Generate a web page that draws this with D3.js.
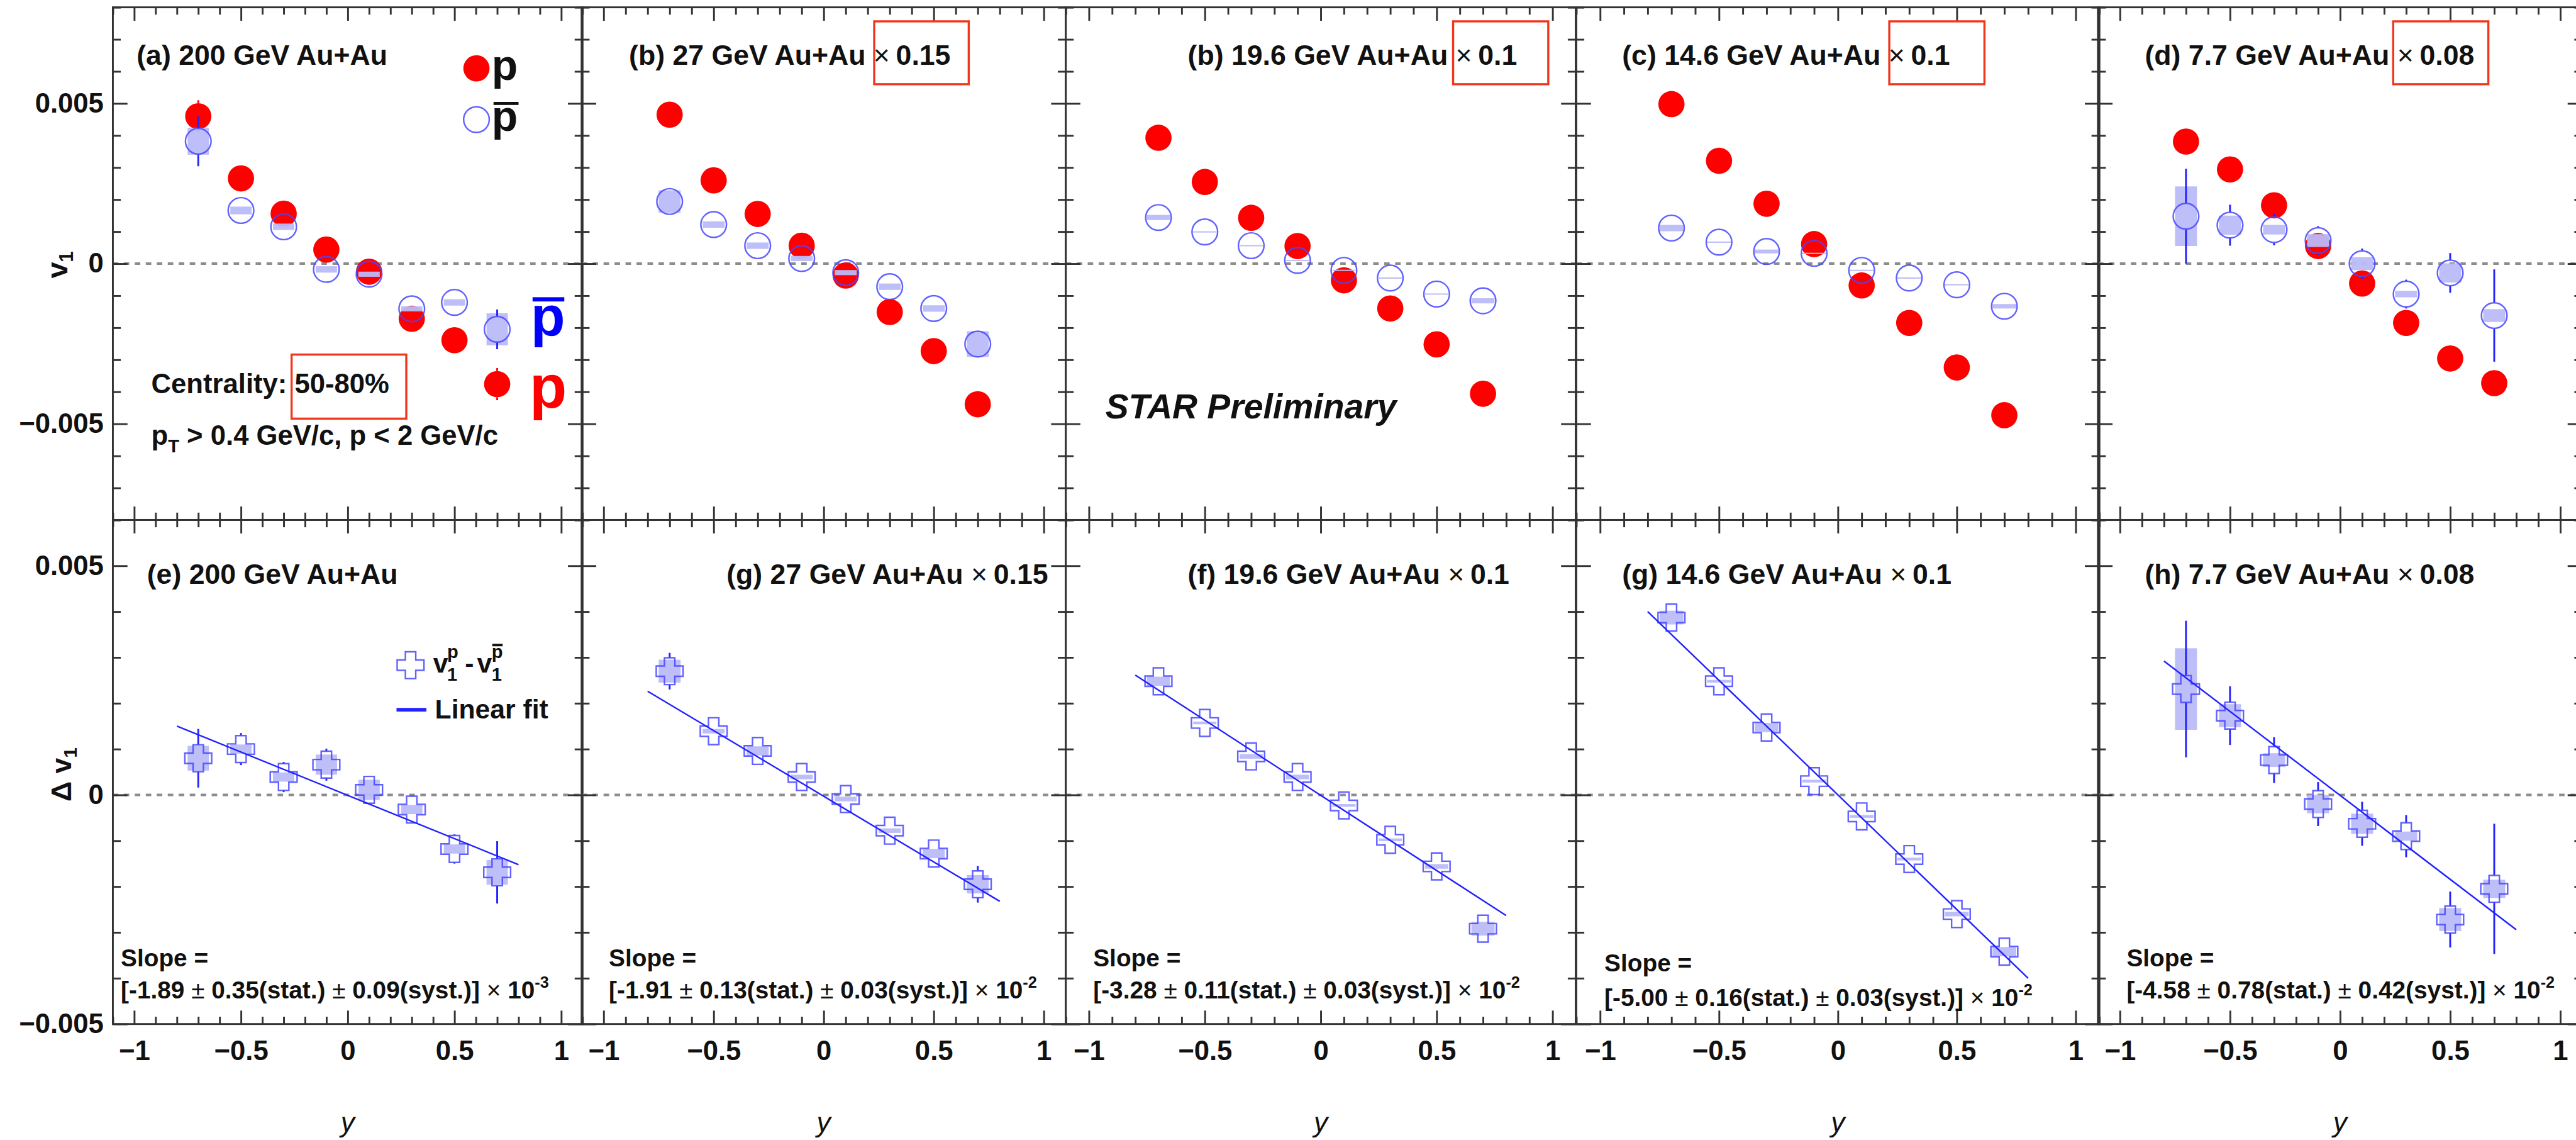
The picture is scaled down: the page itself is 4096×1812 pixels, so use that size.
<!DOCTYPE html>
<html>
<head>
<meta charset="utf-8">
<script src="https://cdn.jsdelivr.net/npm/d3@7"></script>
<style>
  html, body { margin:0; padding:0; background:#ffffff; overflow:hidden; }
  svg { display:block; }
</style>
</head>
<body>
<svg id="chart" width="4096" height="1812"></svg>
<script>
// ================= DATA =================
const rapidity = [-0.7, -0.5, -0.3, -0.1, 0.1, 0.3, 0.5, 0.7];
const energyLabels = ["200 GeV Au+Au", "27 GeV Au+Au", "19.6 GeV Au+Au", "14.6 GeV Au+Au", "7.7 GeV Au+Au"];
const topPanelTags = ["(a)", "(b)", "(b)", "(c)", "(d)"];
const bottomPanelTags = ["(e)", "(g)", "(f)", "(g)", "(h)"];
const scaleFactors = ["", "0.15", "0.1", "0.1", "0.08"];
const xTickValues = [-1, -0.5, 0, 0.5, 1];
const yTickValues = [-0.005, 0, 0.005];

// proton v1 (scaled as drawn)
const pV1_200  = [0.00460, 0.00266, 0.00156, 0.00044, -0.00025, -0.00172, -0.00239, -0.00376];
const pV1_27   = [0.00465, 0.00260, 0.00155, 0.00056, -0.00037, -0.00151, -0.00273, -0.00439];
const pV1_19   = [0.00393, 0.00255, 0.00143, 0.00055, -0.00052, -0.00140, -0.00252, -0.00406];
const pV1_14   = [0.00498, 0.00321, 0.00187, 0.00061, -0.00068, -0.00185, -0.00324, -0.00473];
const pV1_7    = [0.00381, 0.00294, 0.00182, 0.00055, -0.00062, -0.00185, -0.00296, -0.00373];
const pStat_200 = [0.0005, 0.0002, 0.0002, 0.0002, 0.0002, 0.0002, 0.0002, 0.0005];
const pStat_low = [0.0002, 0.0002, 0.0002, 0.0002, 0.0002, 0.0002, 0.0002, 0.0002];

// anti-proton v1
const pbarV1_200 = [0.00382, 0.00166, 0.00115, -0.00018, -0.00033, -0.00141, -0.00121, -0.00205];
const pbarV1_27  = [0.00194, 0.00122, 0.00056, 0.00016, -0.00028, -0.00072, -0.00140, -0.00251];
const pbarV1_19  = [0.00144, 0.00099, 0.00056, 0.00010, -0.00021, -0.00045, -0.00095, -0.00116];
const pbarV1_14  = [0.00111, 0.00067, 0.00038, 0.00032, -0.00021, -0.00045, -0.00066, -0.00133];
const pbarV1_7   = [0.00148, 0.00120, 0.00106, 0.00072, 0.00000, -0.00095, -0.00029, -0.00162];
const pbarStat_200 = [0.00078, 0.0002, 0.0002, 0.0002, 0.0002, 0.0002, 0.0002, 0.00062];
const pbarStat_mid = [0.0002, 0.0002, 0.0002, 0.0002, 0.0002, 0.0002, 0.0002, 0.0002];
const pbarStat_7   = [0.00148, 0.00064, 0.00049, 0.00045, 0.00047, 0.00045, 0.00062, 0.00144];
const pbarSyst_200 = [0.00042, 0.00012, 0.00010, 0.00010, 0.00008, 0.00008, 0.00010, 0.00050];
const pbarSyst_27  = [0.00035, 0.00010, 0.00010, 0.00008, 0.00008, 0.00010, 0.00010, 0.00040];
const pbarSyst_19  = [0.00008, 0.00002, 0.00002, 0.00002, 0.00002, 0.00002, 0.00002, 0.00008];
const pbarSyst_14  = [0.00010, 0.00002, 0.00006, 0.00002, 0.00002, 0.00002, 0.00002, 0.00007];
const pbarSyst_7   = [0.00093, 0.00030, 0.00015, 0.00020, 0.00020, 0.00010, 0.00030, 0.00020];

// Delta v1 = v1(p) - v1(pbar)
const dV1_200 = [0.00080, 0.00100, 0.00039, 0.00066, 0.00011, -0.00032, -0.00118, -0.00169];
const dV1_27  = [0.00270, 0.00139, 0.00096, 0.00039, -0.00009, -0.00078, -0.00128, -0.00195];
const dV1_19  = [0.00248, 0.00157, 0.00084, 0.00039, -0.00023, -0.00098, -0.00156, -0.00292];
const dV1_14  = [0.00387, 0.00248, 0.00147, 0.00030, -0.00047, -0.00140, -0.00260, -0.00342];
const dV1_7   = [0.00231, 0.00173, 0.00076, -0.00020, -0.00063, -0.00090, -0.00272, -0.00205];
const dStat_200 = [0.00064, 0.00035, 0.00033, 0.00035, 0.00020, 0.00025, 0.00032, 0.00068];
const dStat_27  = [0.00040, 0.00020, 0.00020, 0.00020, 0.00020, 0.00020, 0.00020, 0.00040];
const dStat_19  = [0.00020, 0.00020, 0.00020, 0.00020, 0.00020, 0.00020, 0.00020, 0.00020];
const dStat_14  = [0.00020, 0.00020, 0.00020, 0.00020, 0.00020, 0.00020, 0.00020, 0.00020];
const dStat_7   = [0.00149, 0.00064, 0.00050, 0.00048, 0.00048, 0.00046, 0.00061, 0.00142];
const dSyst_200 = [0.00027, 0.00010, 0.00010, 0.00022, 0.00022, 0.00010, 0.00010, 0.00027];
const dSyst_27  = [0.00025, 0.00005, 0.00010, 0.00005, 0.00005, 0.00005, 0.00010, 0.00020];
const dSyst_19  = [0.00010, 0.00003, 0.00005, 0.00005, 0.00003, 0.00003, 0.00005, 0.00015];
const dSyst_14  = [0.00015, 0.00003, 0.00010, 0.00003, 0.00003, 0.00003, 0.00005, 0.00010];
const dSyst_7   = [0.00089, 0.00025, 0.00015, 0.00020, 0.00022, 0.00010, 0.00025, 0.00020];

// linear fits (as drawn) and quoted slopes
const fitSlope     = [-0.00189, -0.002865, -0.00328, -0.00500, -0.003664];
const fitIntercept = [-0.00001, -0.00003, -0.00001, 0.00000, -0.00001];
const fitRange     = [-0.8, 0.8];
const slopeValue = ["-1.89", "-1.91", "-3.28", "-5.00", "-4.58"];
const slopeStat  = ["0.35", "0.13", "0.11", "0.16", "0.78"];
const slopeSyst  = ["0.09", "0.03", "0.03", "0.03", "0.42"];
const slopeExp   = ["-3", "-2", "-2", "-2", "-2"];

// assembled per-panel lists
const pV1 = [pV1_200, pV1_27, pV1_19, pV1_14, pV1_7];
const pStat = [pStat_200, pStat_low, pStat_low, pStat_low, pStat_low];
const pbarV1 = [pbarV1_200, pbarV1_27, pbarV1_19, pbarV1_14, pbarV1_7];
const pbarStat = [pbarStat_200, pbarStat_mid, pbarStat_mid, pbarStat_mid, pbarStat_7];
const pbarSyst = [pbarSyst_200, pbarSyst_27, pbarSyst_19, pbarSyst_14, pbarSyst_7];
const dV1 = [dV1_200, dV1_27, dV1_19, dV1_14, dV1_7];
const dStat = [dStat_200, dStat_27, dStat_19, dStat_14, dStat_7];
const dSyst = [dSyst_200, dSyst_27, dSyst_19, dSyst_14, dSyst_7];

// ================= LAYOUT / STYLE =================
const S = 0.97;
const FONT = "'Liberation Sans', Arial, Helvetica, sans-serif";
const INK = "#111";
const FRAME = "#333";
const RED = "#ff0000";
const BLUE_LINE = "#2222ff";
const BLUE_MARK = "rgba(70,70,255,0.85)";
const SYS = "#babaf8";
const BOXRED = "#f2361c";
const MARK_R = 21.5;      // circle marker radius
const CROSS_HALF = 22;    // cross marker half size

const svg = d3.select("#chart");
const root = svg.append("g").attr("transform", `scale(${S})`);

const panelEdges = [[185, 955], [953.4, 1747.1], [1747, 2583], [2584, 3441.5], [3439, 4233]];
const xScales = panelEdges.map(e => d3.scaleLinear().domain([-1.1, 1.1]).range(e));
const yTop = d3.scaleLinear().domain([-0.008, 0.008]).range([852, 12]);
const yBot = d3.scaleLinear().domain([-0.005, 0.006]).range([1678, 852]);

const xMinorVals = d3.range(-11, 12).filter(i => i % 5 !== 0).map(i => i / 10);
const yTopMinor = d3.range(-8, 9).filter(i => i % 5 !== 0).map(i => i / 1000);
const yBotMinor = d3.range(-5, 7).filter(i => i % 5 !== 0).map(i => i / 1000);

const fmtX = d => d3.format("~g")(d);
const fmtY = d => d === 0 ? "0" : d3.format(".3f")(d);

function styleAxis(sel, size) {
  sel.select(".domain").remove();
  sel.selectAll(".tick line").attr("stroke", FRAME).attr("stroke-width", 3);
  sel.selectAll(".tick text").attr("fill", INK).attr("font-size", size)
    .attr("font-weight", "bold").attr("font-family", FONT);
}

function drawAxes(g, x, y, yMinor, showY, showX) {
  const [x0, x1] = x.range();
  const [yb, yt] = y.range();
  g.append("g").attr("transform", `translate(0,${yb})`)
    .call(d3.axisBottom(x).tickValues(xTickValues).tickSize(-22).tickPadding(27).tickFormat(showX ? fmtX : ""))
    .call(s => styleAxis(s, 45));
  g.append("g").attr("transform", `translate(0,${yb})`)
    .call(d3.axisBottom(x).tickValues(xMinorVals).tickSize(-12).tickFormat(""))
    .call(s => styleAxis(s, 45));
  g.append("g").attr("transform", `translate(0,${yt})`)
    .call(d3.axisTop(x).tickValues(xTickValues).tickSize(-22).tickFormat(""))
    .call(s => styleAxis(s, 45));
  g.append("g").attr("transform", `translate(0,${yt})`)
    .call(d3.axisTop(x).tickValues(xMinorVals).tickSize(-12).tickFormat(""))
    .call(s => styleAxis(s, 45));
  g.append("g").attr("transform", `translate(${x0},0)`)
    .call(d3.axisLeft(y).tickValues(yTickValues).tickSize(-24).tickPadding(15).tickFormat(showY ? fmtY : ""))
    .call(s => styleAxis(s, 45));
  g.append("g").attr("transform", `translate(${x0},0)`)
    .call(d3.axisLeft(y).tickValues(yMinor).tickSize(-13).tickFormat(""))
    .call(s => styleAxis(s, 45));
  g.append("g").attr("transform", `translate(${x1},0)`)
    .call(d3.axisRight(y).tickValues(yTickValues).tickSize(-24).tickFormat(""))
    .call(s => styleAxis(s, 45));
  g.append("g").attr("transform", `translate(${x1},0)`)
    .call(d3.axisRight(y).tickValues(yMinor).tickSize(-13).tickFormat(""))
    .call(s => styleAxis(s, 45));
  g.append("rect").attr("x", x0).attr("y", yt).attr("width", x1 - x0).attr("height", yb - yt)
    .attr("fill", "none").attr("stroke", FRAME).attr("stroke-width", 3);
}

function zeroLine(g, x, y) {
  const [x0, x1] = x.range();
  g.append("line").attr("x1", x0).attr("x2", x1).attr("y1", y(0)).attr("y2", y(0))
    .attr("stroke", "#8c8c8c").attr("stroke-width", 4).attr("stroke-dasharray", "9 9");
}

// error bar drawn only outside the marker (ROOT style)
function errorBars(g, rows, x, y, key, errKey, gap, color) {
  const segs = [];
  rows.forEach(d => {
    const cx = x(d.r), cy = y(d[key]);
    const yUp = y(d[key] + d[errKey]), yDn = y(d[key] - d[errKey]);
    if (cy - yUp > gap) segs.push([cx, yUp, cy - gap]);
    if (yDn - cy > gap) segs.push([cx, cy + gap, yDn]);
  });
  g.selectAll(null).data(segs).join("line")
    .attr("x1", s => s[0]).attr("x2", s => s[0]).attr("y1", s => s[1]).attr("y2", s => s[2])
    .attr("stroke", color).attr("stroke-width", 3);
}

const crossPath = (() => {
  const s = CROSS_HALF, a = 8.5;
  return `M${-a},${-s}L${a},${-s}L${a},${-a}L${s},${-a}L${s},${a}L${a},${a}L${a},${s}L${-a},${s}L${-a},${a}L${-s},${a}L${-s},${-a}L${-a},${-a}Z`;
})();

function title(g, x, yBase, tag, energy, factor) {
  const t = g.append("text").attr("x", x).attr("y", yBase).attr("font-family", FONT)
    .attr("font-size", 46).attr("font-weight", "bold").attr("fill", INK);
  t.append("tspan").text(`${tag} ${energy}`);
  if (factor) {
    t.append("tspan").attr("font-weight", "normal").text(" \u00d7");
    t.append("tspan").attr("dx", 10).text(factor);
  }
}

// ================= TOP ROW =================
const topTitleX = [224, 1031, 1947, 2659, 3516];
const bottomTitleX = [241, 1191, 1947, 2659, 3516];
const redBoxX = [null, [1433, 1588], [2382, 2538], [3097, 3253], [3923, 4079]];

for (let i = 0; i < 5; i++) {
  const x = xScales[i];
  const g = root.append("g");
  zeroLine(g, x, yTop);
  const halfW = v => x(v + 0.05) - x(v);
  const rows = rapidity.map((r, j) => ({
    r, p: pV1[i][j], pe: pStat[i][j], b: pbarV1[i][j], be: pbarStat[i][j], bs: pbarSyst[i][j]
  }));
  errorBars(g, rows, x, yTop, "p", "pe", MARK_R, RED);
  g.selectAll(null).data(rows).join("circle")
    .attr("cx", d => x(d.r)).attr("cy", d => yTop(d.p)).attr("r", MARK_R).attr("fill", RED);
  g.selectAll(null).data(rows).join("rect")
    .attr("x", d => x(d.r) - halfW(d.r)).attr("width", d => 2 * halfW(d.r))
    .attr("y", d => yTop(d.b + d.bs)).attr("height", d => Math.max(2, yTop(d.b - d.bs) - yTop(d.b + d.bs)))
    .attr("fill", SYS).attr("opacity", 0.95);
  errorBars(g, rows, x, yTop, "b", "be", MARK_R, BLUE_LINE);
  g.selectAll(null).data(rows).join("circle")
    .attr("cx", d => x(d.r)).attr("cy", d => yTop(d.b)).attr("r", 21)
    .attr("fill", "none").attr("stroke", BLUE_MARK).attr("stroke-width", 2.5);

  drawAxes(g, x, yTop, yTopMinor, i === 0, false);
  title(g, topTitleX[i], 106, topPanelTags[i], energyLabels[i], scaleFactors[i]);
  if (redBoxX[i]) {
    g.append("rect").attr("x", redBoxX[i][0]).attr("y", 35)
      .attr("width", redBoxX[i][1] - redBoxX[i][0]).attr("height", 103)
      .attr("fill", "none").attr("stroke", BOXRED).attr("stroke-width", 3.5);
  }
}

// ================= BOTTOM ROW =================
const slopeX = [198, 998, 1792, 2630, 3486];
const slopeBase = [[1584, 1636], [1584, 1636], [1584, 1636], [1592, 1648], [1584, 1636]];

for (let i = 0; i < 5; i++) {
  const x = xScales[i];
  const g = root.append("g");
  zeroLine(g, x, yBot);
  const halfW = v => x(v + 0.05) - x(v);
  const rows = rapidity.map((r, j) => ({ r, v: dV1[i][j], e: dStat[i][j], s: dSyst[i][j] }));
  g.selectAll(null).data(rows).join("rect")
    .attr("x", d => x(d.r) - halfW(d.r)).attr("width", d => 2 * halfW(d.r))
    .attr("y", d => yBot(d.v + d.s)).attr("height", d => Math.max(2, yBot(d.v - d.s) - yBot(d.v + d.s)))
    .attr("fill", SYS).attr("opacity", 0.95);
  errorBars(g, rows, x, yBot, "v", "e", CROSS_HALF, BLUE_LINE);
  g.selectAll(null).data(rows).join("path")
    .attr("d", crossPath).attr("transform", d => `translate(${x(d.r)},${yBot(d.v)})`)
    .attr("fill", "none").attr("stroke", BLUE_MARK).attr("stroke-width", 2.5);
  const fitLine = d3.line().x(d => x(d)).y(d => yBot(fitIntercept[i] + fitSlope[i] * d));
  g.append("path").attr("d", fitLine(fitRange)).attr("fill", "none")
    .attr("stroke", BLUE_LINE).attr("stroke-width", 2.5);

  drawAxes(g, x, yBot, yBotMinor, i === 0, true);
  title(g, bottomTitleX[i], 957, bottomPanelTags[i], energyLabels[i], scaleFactors[i]);

  g.append("text").attr("x", slopeX[i]).attr("y", slopeBase[i][0]).attr("font-family", FONT)
    .attr("font-size", 40).attr("font-weight", "bold").attr("fill", INK).text("Slope =");
  const s2 = g.append("text").attr("x", slopeX[i]).attr("y", slopeBase[i][1]).attr("font-family", FONT)
    .attr("font-size", 40).attr("font-weight", "bold").attr("fill", INK);
  s2.append("tspan").text(`[${slopeValue[i]} `);
  s2.append("tspan").attr("font-weight", "normal").text("\u00b1");
  s2.append("tspan").text(` ${slopeStat[i]}(stat.) `);
  s2.append("tspan").attr("font-weight", "normal").text("\u00b1");
  s2.append("tspan").text(` ${slopeSyst[i]}(syst.)] `);
  s2.append("tspan").attr("font-weight", "normal").text("\u00d7");
  s2.append("tspan").text(" 10");
  s2.append("tspan").attr("font-size", 26).attr("dy", -17).text(slopeExp[i]);
}

// ================= AXIS TITLES =================
const yTitleTop = root.append("text").attr("transform", "translate(110,434) rotate(-90)")
  .attr("text-anchor", "middle").attr("font-family", FONT).attr("font-weight", "bold")
  .attr("font-size", 48).attr("fill", INK);
yTitleTop.append("tspan").text("v");
yTitleTop.append("tspan").attr("font-size", 32).attr("dy", 10).text("1");

const yTitleBot = root.append("text").attr("transform", "translate(116,1269) rotate(-90)")
  .attr("text-anchor", "middle").attr("font-family", FONT).attr("font-weight", "bold")
  .attr("font-size", 46).attr("fill", INK);
yTitleBot.append("tspan").text("\u0394 v");
yTitleBot.append("tspan").attr("font-size", 31).attr("dy", 10).text("1");

xScales.forEach(x => {
  root.append("text").attr("x", x(0)).attr("y", 1855).attr("text-anchor", "middle")
    .attr("font-family", FONT).attr("font-style", "italic").attr("font-size", 46)
    .attr("fill", INK).text("y");
});

// ================= PANEL (a) ANNOTATIONS =================
const ann = root.append("g").attr("font-family", FONT).attr("font-weight", "bold").attr("fill", INK);
ann.append("circle").attr("cx", 781).attr("cy", 112).attr("r", MARK_R).attr("fill", RED);
ann.append("text").attr("x", 806).attr("y", 131).attr("font-size", 70).text("p");
ann.append("circle").attr("cx", 781).attr("cy", 196).attr("r", 21).attr("fill", "none")
  .attr("stroke", BLUE_MARK).attr("stroke-width", 2.5);
ann.append("text").attr("x", 806).attr("y", 214).attr("font-size", 70).text("p");
ann.append("rect").attr("x", 809).attr("y", 167).attr("width", 41).attr("height", 5).attr("fill", INK);

ann.append("text").attr("x", 870).attr("y", 549).attr("font-size", 92).attr("fill", "#0000ff").text("p");
ann.append("rect").attr("x", 873).attr("y", 487).attr("width", 52).attr("height", 7).attr("fill", "#0000ff");
ann.append("text").attr("x", 868).attr("y", 668).attr("font-size", 100).attr("fill", RED).text("p");

ann.append("text").attr("x", 248).attr("y", 644).attr("font-size", 45).text("Centrality: 50-80%");
ann.append("rect").attr("x", 478).attr("y", 581).attr("width", 188).attr("height", 105)
  .attr("fill", "none").attr("stroke", BOXRED).attr("stroke-width", 3.5);
const cut = ann.append("text").attr("x", 248).attr("y", 729).attr("font-size", 45);
cut.append("tspan").text("p");
cut.append("tspan").attr("font-size", 30).attr("dy", 12).text("T");
cut.append("tspan").attr("dy", -12).text(" > 0.4 GeV/c, p < 2 GeV/c");

ann.append("text").attr("x", 1812).attr("y", 686).attr("font-size", 57).attr("font-style", "italic")
  .text("STAR Preliminary");

// ================= PANEL (e) LEGEND =================
ann.append("path").attr("d", crossPath).attr("transform", "translate(673,1090)")
  .attr("fill", "none").attr("stroke", BLUE_MARK).attr("stroke-width", 2.5);
const lg = ann.append("text").attr("x", 710).attr("y", 1102).attr("font-size", 44);
lg.append("tspan").text("v");
lg.append("tspan").attr("font-size", 30).attr("x", 733).attr("dy", 13).text("1");
lg.append("tspan").attr("font-size", 30).attr("x", 733).attr("dy", -37).text("p");
lg.append("tspan").attr("x", 762).attr("dy", 24).text("-");
lg.append("tspan").attr("x", 782).text("v");
lg.append("tspan").attr("font-size", 30).attr("x", 806).attr("dy", 13).text("1");
lg.append("tspan").attr("font-size", 30).attr("x", 806).attr("dy", -37).text("p");
ann.append("rect").attr("x", 807).attr("y", 1055).attr("width", 17).attr("height", 4).attr("fill", INK);
ann.append("line").attr("x1", 650).attr("x2", 699).attr("y1", 1163).attr("y2", 1163)
  .attr("stroke", BLUE_LINE).attr("stroke-width", 6);
ann.append("text").attr("x", 713).attr("y", 1177).attr("font-size", 44).text("Linear fit");
</script>
</body>
</html>
